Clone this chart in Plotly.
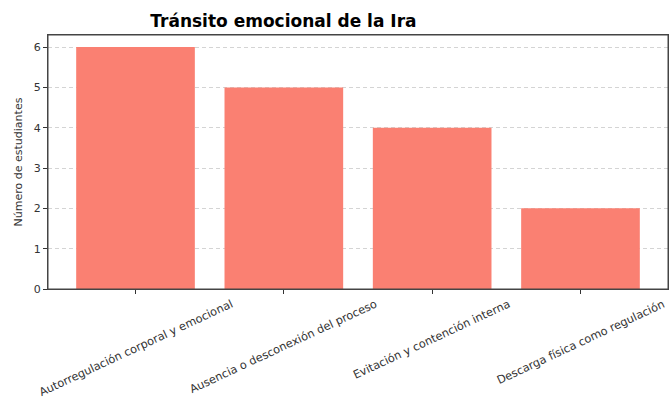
# Bar chart: Tránsito emocional de la Ira
import plotly.graph_objects as go

categories = [
    "Autorregulación corporal y emocional",
    "Ausencia o desconexión del proceso",
    "Evitación y contención interna",
    "Descarga física como regulación",
]
students = [6, 5, 4, 2]
y_ticks = [0, 1, 2, 3, 4, 5, 6]

FONT = "DejaVu Sans"

fig = go.Figure()
fig.add_trace(go.Bar(
    x=categories,
    y=students,
    width=0.8,
    marker=dict(color="#FA8072", line=dict(width=0)),
))

# matplotlib-style labels: rotated and centred under each tick
for cat in categories:
    fig.add_annotation(
        x=cat, y=0, xref="x", yref="paper",
        text=cat, showarrow=False, textangle=-25,
        xanchor="center", yanchor="top", yshift=-6,
        font=dict(family=FONT, size=11.3, color="#333333"),
    )

# full frame round the plot area
fig.add_shape(
    type="rect", xref="paper", yref="paper", x0=0, x1=1, y0=0, y1=1,
    line=dict(color="#444444", width=1), layer="above",
)

fig.update_layout(
    width=670, height=403,
    margin=dict(l=48, r=2, t=35, b=114),
    paper_bgcolor="white",
    plot_bgcolor="white",
    showlegend=False,
    bargap=0.2,
    title=dict(
        text="<b>Tránsito emocional de la Ira</b>",
        x=0.423, xanchor="center", y=0.947, yanchor="middle",
        font=dict(family=FONT, size=17, color="black"),
    ),
    font=dict(family=FONT, size=11, color="#333333"),
)

fig.update_xaxes(
    range=[-0.59, 3.59],
    showticklabels=False,
    ticks="outside", ticklen=4, tickcolor="#333333",
    showline=True, linecolor="#444444", linewidth=1, mirror=True,
    showgrid=False,
)
fig.update_yaxes(
    range=[0, 6.3],
    tickvals=y_ticks,
    ticks="outside", ticklen=4, tickcolor="#333333",
    showline=True, linecolor="#444444", linewidth=1, mirror=True,
    showgrid=True, gridcolor="#d4d4d4", griddash="4px,3px", gridwidth=1,
    zeroline=False,
    automargin=False,
    title=dict(text="Número de estudiantes", font=dict(family=FONT, size=11), standoff=8),
)

# drop the browser's default 8px body margin so the figure sits at the page corner
fig.write_html(
    "out.html",
    config={"displayModeBar": False},
    post_script="document.body.style.margin='0';",
)
